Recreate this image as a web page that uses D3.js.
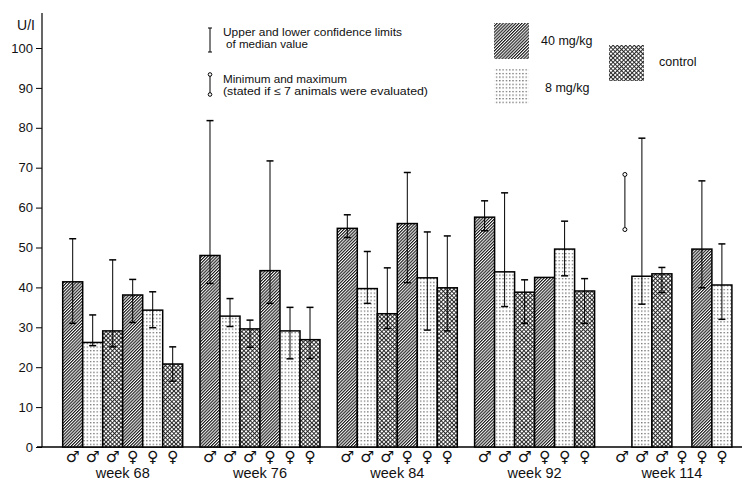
<!DOCTYPE html>
<html>
<head>
<meta charset="utf-8">
<script src="https://cdn.jsdelivr.net/npm/d3@7"></script>
<style>
  html, body { margin: 0; padding: 0; background: #fff; }
  svg { display: block; font-family: "Liberation Sans", Arial, sans-serif; }
</style>
</head>
<body>
<svg id="chart" width="750" height="480"></svg>
<script>
// ---------- data ----------
const weeks = ["week 68", "week 76", "week 84", "week 92", "week 114"];
const slotSex = ["♂", "♂", "♂", "♀", "♀", "♀"];
const doses = ["40 mg/kg", "8 mg/kg", "control"];
// dose index of each bar slot, per week
const slotDose = [
  [0, 1, 2, 0, 1, 2],
  [0, 1, 2, 0, 1, 2],
  [0, 1, 2, 0, 1, 2],
  [0, 1, 2, 0, 1, 2],
  [0, 1, 2, 0, 0, 1]
];
const medians = [
  [41.4, 26.2, 29.1, 38.1, 34.3, 20.8],
  [48.0, 32.8, 29.6, 44.2, 29.1, 26.9],
  [54.8, 39.7, 33.4, 56.0, 42.4, 39.9],
  [57.6, 43.9, 38.8, 42.5, 49.6, 39.1],
  [null, 42.8, 43.4, null, 49.6, 40.6]
];
const lowerCL = [
  [31.0, 25.4, 25.1, 31.2, 29.9, 16.5],
  [41.0, 30.2, 25.0, 36.0, 22.1, 22.2],
  [52.5, 36.0, 29.7, 41.2, 29.3, 29.1],
  [54.2, 35.2, 31.0, null, 42.9, 31.0],
  [null, 35.8, 38.7, null, 39.9, 32.0]
];
const upperCL = [
  [52.2, 33.1, 46.9, 42.0, 38.9, 25.1],
  [81.8, 37.2, 31.8, 71.7, 35.0, 35.0],
  [58.2, 49.0, 44.9, 68.8, 53.9, 52.9],
  [61.7, 63.7, 41.9, null, 56.6, 42.2],
  [null, 77.4, 45.0, null, 66.7, 50.9]
];
const minMax = [ { week: 4, slot: 0, min: 54.5, max: 68.3 } ];
const yTicks = [0, 10, 20, 30, 40, 50, 60, 70, 80, 90, 100];
const yLabel = "U/I";
const legendNotes = [
  "Upper and lower confidence limits",
  "of median value",
  "Minimum and maximum",
  "(stated if ≤ 7 animals were evaluated)"
];

// ---------- setup ----------
const svg = d3.select("#chart");
const defs = svg.append("defs");

// pattern: 40 mg/kg dense diagonal hatch
const p40 = defs.append("pattern").attr("id", "pat0")
  .attr("patternUnits", "userSpaceOnUse").attr("width", 2.2).attr("height", 2.2)
  .attr("patternTransform", "rotate(-45)");
p40.append("rect").attr("width", 2.2).attr("height", 2.2).attr("fill", "#fff");
p40.append("rect").attr("width", 2.2).attr("height", 1.15).attr("fill", "#1a1a1a");

// pattern: 8 mg/kg sparse dots
const p8 = defs.append("pattern").attr("id", "pat1")
  .attr("patternUnits", "userSpaceOnUse").attr("width", 3.3).attr("height", 3.6);
p8.append("rect").attr("width", 3.3).attr("height", 3.6).attr("fill", "#fff");
p8.append("rect").attr("x", 1).attr("y", 1).attr("width", 1.1).attr("height", 1.1).attr("fill", "#333");

// pattern: control crosshatch
const pc = defs.append("pattern").attr("id", "pat2")
  .attr("patternUnits", "userSpaceOnUse").attr("width", 3).attr("height", 3)
  .attr("patternTransform", "rotate(45)");
pc.append("rect").attr("width", 3).attr("height", 3).attr("fill", "#fff");
pc.append("rect").attr("width", 3).attr("height", 0.95).attr("fill", "#222");
pc.append("rect").attr("width", 0.95).attr("height", 3).attr("fill", "#222");

const y = d3.scaleLinear().domain([0, 100]).range([447, 48]);
const x0 = d3.scaleBand().domain(weeks).range([62.7, 731.9]).paddingInner(0.126).paddingOuter(0);
const x1 = d3.scaleBand().domain(d3.range(6)).range([0, x0.bandwidth()]).padding(0);

// ---------- axes ----------
const yAxis = d3.axisLeft(y).tickValues(yTicks).tickSize(6).tickPadding(3).tickFormat(d3.format("d"));
const gy = svg.append("g").attr("transform", "translate(42,0)").call(yAxis);
gy.select(".domain").remove();
gy.selectAll(".tick line").attr("stroke", "#000").attr("stroke-width", 1);
gy.selectAll(".tick text").attr("font-size", 13).attr("fill", "#111")
  .attr("font-family", "Liberation Sans, Arial, sans-serif");
svg.append("line").attr("x1", 42).attr("x2", 42).attr("y1", 13).attr("y2", y(0))
  .attr("stroke", "#000").attr("stroke-width", 1.2);
svg.append("line").attr("x1", 37).attr("x2", 742).attr("y1", y(0)).attr("y2", y(0))
  .attr("stroke", "#000").attr("stroke-width", 1.5);
svg.append("text").attr("x", 35).attr("y", 30).attr("text-anchor", "end")
  .attr("font-size", 14).attr("fill", "#111").text(yLabel);

// ---------- bars ----------
const barData = [];
weeks.forEach((w, wi) => {
  slotSex.forEach((s, si) => {
    barData.push({ wi, si, week: w, sex: s, dose: slotDose[wi][si],
      v: medians[wi][si], lo: lowerCL[wi][si], hi: upperCL[wi][si] });
  });
});
const bx = d => x0(d.week) + x1(d.si);

svg.append("g").selectAll("rect").data(barData.filter(d => d.v != null)).join("rect")
  .attr("x", bx).attr("width", x1.bandwidth())
  .attr("y", d => y(d.v)).attr("height", d => y(0) - y(d.v))
  .attr("fill", d => `url(#pat${d.dose})`)
  .attr("stroke", "#000").attr("stroke-width", 1.5);

// error bars
const eb = svg.append("g").attr("stroke", "#000");
barData.filter(d => d.lo != null && d.hi != null).forEach(d => {
  const cx = bx(d) + x1.bandwidth() / 2;
  eb.append("line").attr("x1", cx).attr("x2", cx).attr("y1", y(d.hi)).attr("y2", y(d.lo)).attr("stroke-width", 1);
  [d.hi, d.lo].forEach(v => eb.append("line").attr("x1", cx - 3.5).attr("x2", cx + 3.5)
    .attr("y1", y(v)).attr("y2", y(v)).attr("stroke-width", 1.5));
});

// min / max markers
minMax.forEach(m => {
  const cx = x0(weeks[m.week]) + x1(m.slot) + x1.bandwidth() / 2 + 3;
  svg.append("line").attr("x1", cx).attr("x2", cx).attr("y1", y(m.max) + 2).attr("y2", y(m.min) - 2)
    .attr("stroke", "#000").attr("stroke-width", 1);
  [m.max, m.min].forEach(v => svg.append("circle").attr("cx", cx).attr("cy", y(v)).attr("r", 2)
    .attr("fill", "#fff").attr("stroke", "#000").attr("stroke-width", 1));
});

// sex symbols
svg.append("g").selectAll("text").data(barData).join("text")
  .attr("x", d => bx(d) + x1.bandwidth() / 2).attr("y", 462)
  .attr("text-anchor", "middle").attr("font-size", 15.5)
  .attr("font-family", "DejaVu Sans, sans-serif").attr("fill", "#111")
  .text(d => d.sex);

// week labels
svg.append("g").selectAll("text").data(weeks).join("text")
  .attr("x", d => x0(d) + x0.bandwidth() / 2).attr("y", 478)
  .attr("text-anchor", "middle").attr("font-size", 14.5).attr("fill", "#111")
  .text(d => d);

// ---------- legend ----------
const lg = svg.append("g").attr("fill", "#111");
// confidence symbol
lg.append("line").attr("x1", 210).attr("x2", 210).attr("y1", 28).attr("y2", 52).attr("stroke", "#000");
[28, 52].forEach(v => lg.append("line").attr("x1", 208).attr("x2", 212).attr("y1", v).attr("y2", v).attr("stroke", "#000"));
// min/max symbol
lg.append("line").attr("x1", 210).attr("x2", 210).attr("y1", 76).attr("y2", 93).attr("stroke", "#000");
[74.5, 94.5].forEach(v => lg.append("circle").attr("cx", 210).attr("cy", v).attr("r", 1.8)
  .attr("fill", "#fff").attr("stroke", "#000"));

const notePos = [
  { x: 223, y: 35.5, w: 179 },
  { x: 226, y: 48.3, w: 82 },
  { x: 223, y: 82.5, w: 124 },
  { x: 223, y: 95.3, w: 205 }
];
legendNotes.forEach((t, i) => {
  lg.append("text").attr("x", notePos[i].x).attr("y", notePos[i].y)
    .attr("font-size", 11).attr("textLength", notePos[i].w).attr("lengthAdjust", "spacingAndGlyphs")
    .text(t);
});

// dose swatches
const sw = [
  { d: 0, x: 494, y: 23, tx: 541, ty: 44.5 },
  { d: 1, x: 494, y: 69, tx: 545, ty: 91.5 },
  { d: 2, x: 609, y: 45, tx: 659, ty: 65.5 }
];
sw.forEach(s => {
  lg.append("rect").attr("x", s.x).attr("y", s.y).attr("width", 35).attr("height", 36)
    .attr("fill", `url(#pat${s.d})`);
  lg.append("text").attr("x", s.tx).attr("y", s.ty).attr("font-size", 12.5).text(doses[s.d]);
});
</script>
</body>
</html>
